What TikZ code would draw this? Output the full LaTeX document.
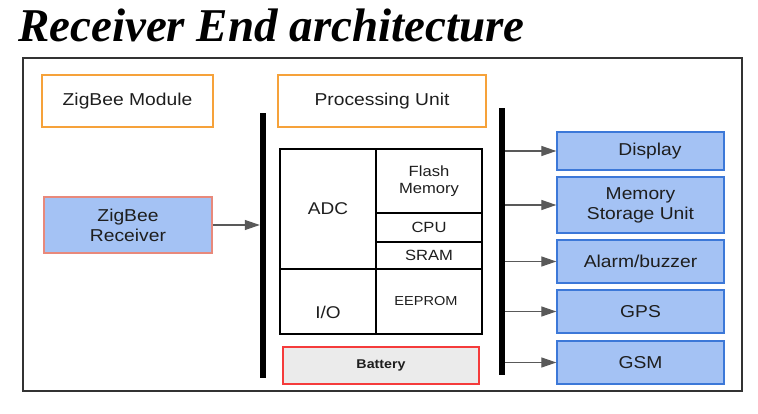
\documentclass[tikz,border=0pt]{standalone}
\usepackage{fontspec}
\setmainfont[FakeStretch=1.12]{Liberation Sans}
\newfontfamily\titlefont{Liberation Serif}
\usetikzlibrary{positioning,calc,arrows.meta}

\definecolor{zbOrange}{HTML}{F6A23A}
\definecolor{zbBlue}{HTML}{A4C2F4}
\definecolor{zbBlueEdge}{HTML}{3C78D8}
\definecolor{zbSalmon}{HTML}{E8897B}
\definecolor{zbRed}{HTML}{F53B3B}
\definecolor{zbGrey}{HTML}{EBEBEB}
\definecolor{zbArrow}{HTML}{595959}
\definecolor{zbText}{HTML}{1E1E1E}

\tikzset{
  titlebox/.style={draw=zbOrange, line width=1.3pt, minimum height=52pt, text=zbText,
    font=\fontsize{17.2}{20}\selectfont},
  unitbox/.style={draw=zbBlueEdge, fill=zbBlue, line width=1.3pt, minimum width=167pt,
    text=zbText, align=center, font=\fontsize{17.2}{20}\selectfont},
  cell/.style={draw=black, line width=1.2pt, inner sep=0pt, text=zbText, align=center,
    font=\fontsize{14.8}{17}\selectfont},
  bus/.style={fill=black, inner sep=0pt, minimum width=6pt},
  arr/.style={draw=zbArrow, line width=1.2pt, -{Triangle[length=15pt,width=10pt]}}
}

\begin{document}
\begin{tikzpicture}[x=1pt,y=-1pt]
    \useasboundingbox (0,0) rectangle (758,414);

    % Title
    \node[anchor=base west, inner sep=0pt, font=\titlefont\bfseries\itshape\fontsize{47}{50}\selectfont] (title) at (18,42) {Receiver End architecture};

    % Frame
    \draw[draw=black!80, line width=1.4pt] (23,58) rectangle (742,391);

    % Headings
    \node[titlebox, minimum width=171pt] (zbmod) at (127.5,101) {ZigBee Module};
    \node[titlebox, minimum width=208pt] (proc) at (382,101) {Processing Unit};

    % Buses
    \node[bus, minimum height=265pt] (lbus) at (263,245.5) {};
    \node[bus, minimum height=267pt] (rbus) at (502,241.5) {};

    % ZigBee receiver
    \node[unitbox, draw=zbSalmon, minimum width=168pt, minimum height=56pt] (zbrx) at (128,225) {ZigBee\\Receiver};
    \draw[arr] (zbrx.east) -- (zbrx.east -| lbus.west);

    % Microcontroller
    \node[cell, minimum width=96pt, minimum height=120pt, font=\fontsize{17}{20}\selectfont] (adc) at (328,209) {ADC};
    \node[cell, minimum width=96pt, minimum height=65pt, font=\fontsize{17}{20}\selectfont] (io) at (328,301.5) {\smash{\raisebox{-17.5pt}{I/O}}};
    \node[cell, minimum width=106pt, minimum height=64pt] (flash) at (429,181) {Flash\\Memory};
    \node[cell, minimum width=106pt, minimum height=29pt] (cpu) at (429,227.5) {CPU};
    \node[cell, minimum width=106pt, minimum height=27pt] (sram) at (429,255.5) {SRAM};
    \node[cell, minimum width=106pt, minimum height=65pt, font=\fontsize{13}{16}\selectfont] (eeprom) at (429,301.5) {EEPROM\hspace*{6pt}};

    % Battery
    \node[draw=zbRed, fill=zbGrey, line width=1.3pt, minimum width=196pt, minimum height=37pt, text=zbText,
      font=\bfseries\fontsize{12.7}{16}\selectfont] (battery) at (381,365.5) {Battery};

    % Outputs
    \node[unitbox, minimum height=38pt] (display) at (640.5,151) {\hspace*{19pt}Display};
    \node[unitbox, minimum height=56pt] (storage) at (640.5,205) {Memory\\Storage Unit};
    \node[unitbox, minimum height=43pt] (alarm) at (640.5,261.5) {Alarm/buzzer};
    \node[unitbox, minimum height=43pt] (gps) at (640.5,311.5) {GPS};
    \node[unitbox, minimum height=43pt] (gsm) at (640.5,362.5) {GSM};

    \foreach \out in {display,storage,alarm,gps,gsm}
        \draw[arr] (rbus.east |- \out.west) -- (\out.west);
\end{tikzpicture}
\end{document}
